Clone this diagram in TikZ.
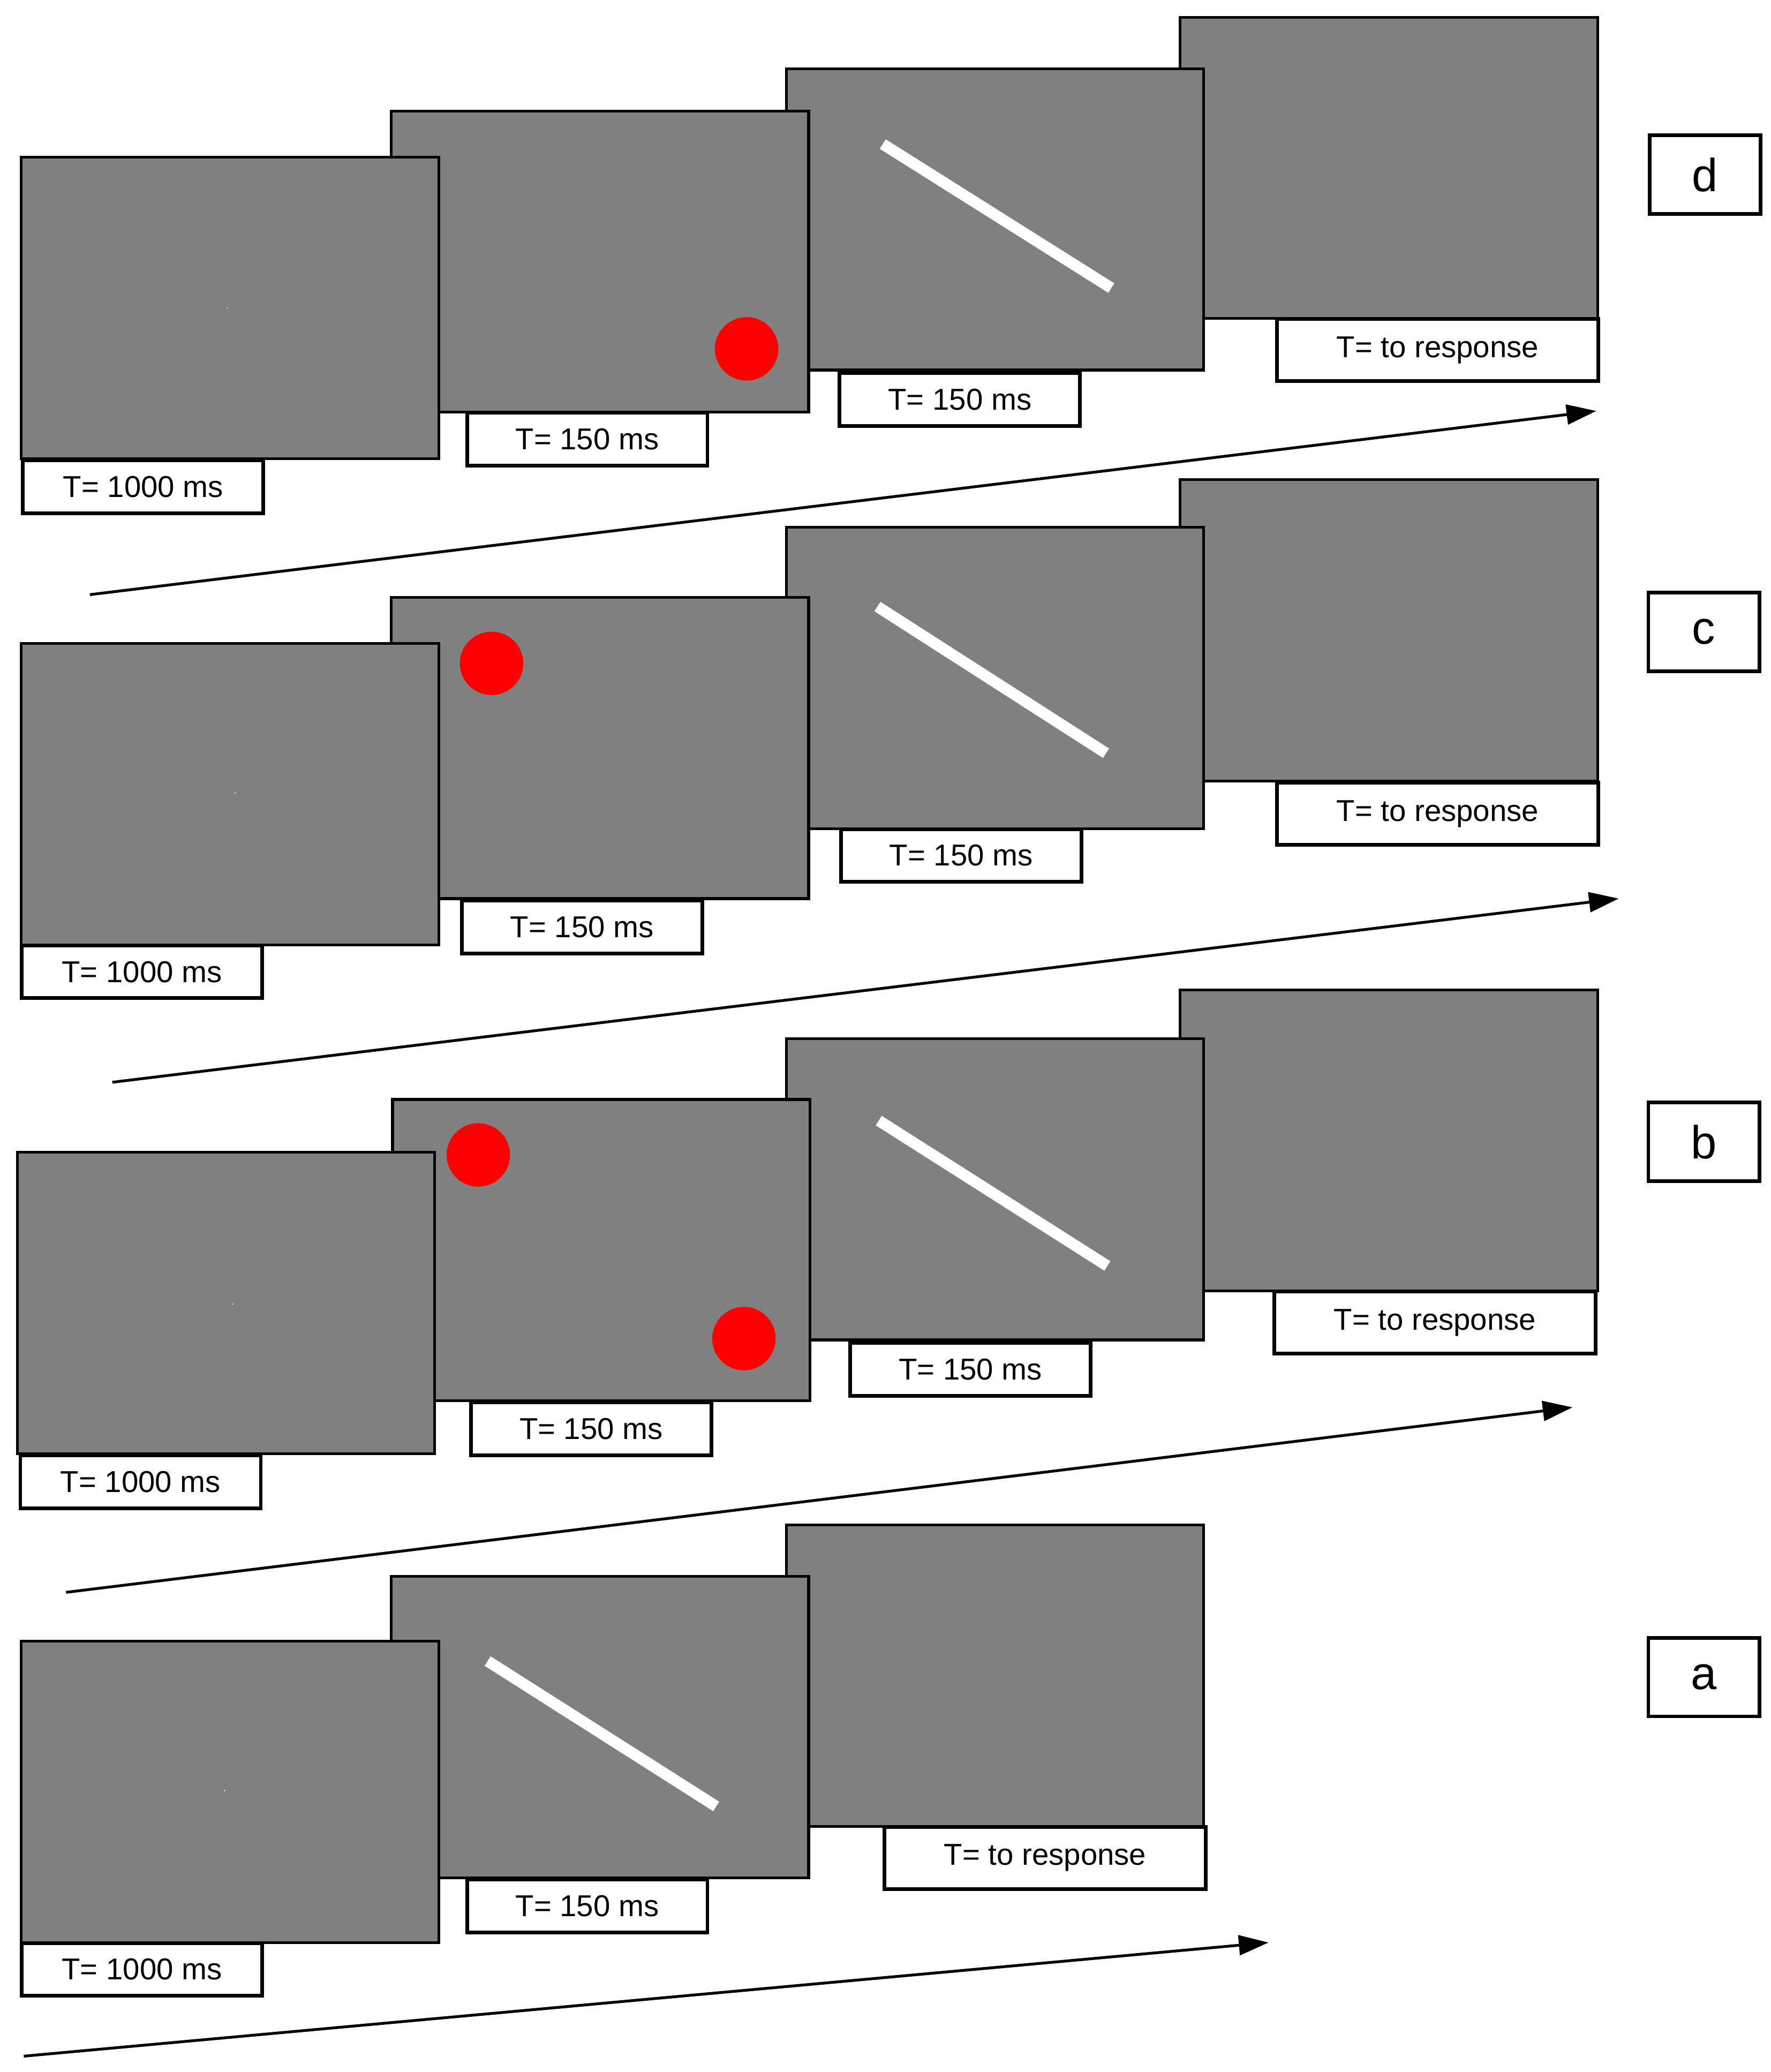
\documentclass[tikz,border=0pt]{standalone}
\usepackage{fontspec}
\setmainfont{Liberation Sans}
\usetikzlibrary{arrows.meta}
\tikzset{
  screen/.style={draw=black,line width=1.2pt,fill=scrgray,anchor=north west,
    minimum width=6.32cm,minimum height=4.56cm,inner sep=0pt},
  tlabel/.style={draw=black,line width=1.6pt,fill=white,anchor=north west,
    minimum width=3.64cm,minimum height=0.8cm,inner sep=0pt,font=\fontsize{13}{15}\selectfont},
  rlabel/.style={tlabel,minimum width=4.86cm,minimum height=0.94cm},
  letter/.style={draw=black,line width=1.6pt,anchor=north west,
    minimum width=1.68cm,minimum height=1.19cm,inner sep=0pt,font=\fontsize{20}{24}\selectfont},
  dot/.style={circle,fill=red,minimum size=0.96cm,inner sep=0pt},
  bar/.style={white,line width=0.17cm},
  timeline/.style={line width=1.2pt,-{Triangle[length=0.45cm,width=0.3cm]}}
}
\definecolor{scrgray}{HTML}{808080}
% cross: #1 = name of centre coordinate
\newcommand{\fixcross}[1]{
  \fill[white] ($(#1)+(-0.42,-0.12)$) rectangle ($(#1)+(0.42,0.12)$);
  \fill[white] ($(#1)+(-0.12,-0.42)$) rectangle ($(#1)+(0.12,0.42)$);
}
\usetikzlibrary{calc}
\begin{document}
\begin{tikzpicture}[x=0.02cm,y=-0.02cm]
\useasboundingbox (0,0) rectangle (1340,1568);

% row d
\node[screen] (d4) at (892,12) {};
\node[screen] (d3) at (594,51) {};
\coordinate (d3s) at (668,109); \coordinate (d3e) at (841,218);
\draw[bar] (d3s) -- (d3e);
\node[screen] (d2) at (295,83) {};
\node[dot] (d2a) at (565,264) {};
\node[screen] (d1) at (15,118) {};
\coordinate (d1c) at (172,233); \fixcross{d1c}
\node[tlabel] (d1t) at (16,347) {T= 1000 ms};
\node[tlabel] (d2t) at (352,311) {T= 150 ms};
\node[tlabel] (d3t) at (634,281) {T= 150 ms};
\node[rlabel] (d4t) at (965,240) {T= to response};
\coordinate (dA) at (68,450); \coordinate (dB) at (1208,311);
\draw[timeline] (dA) -- (dB);
\node[letter] (dl) at (1247,101) {d};

% row c
\node[screen] (c4) at (892,362) {};
\node[screen] (c3) at (594,398) {};
\coordinate (c3s) at (664,459); \coordinate (c3e) at (837,570);
\draw[bar] (c3s) -- (c3e);
\node[screen] (c2) at (295,451) {};
\node[dot] (c2a) at (372,502) {};
\node[screen] (c1) at (15,486) {};
\coordinate (c1c) at (178,600); \fixcross{c1c}
\node[tlabel] (c1t) at (15,714) {T= 1000 ms};
\node[tlabel] (c2t) at (348,680) {T= 150 ms};
\node[tlabel] (c3t) at (635,626) {T= 150 ms};
\node[rlabel] (c4t) at (965,591) {T= to response};
\coordinate (cA) at (85,819); \coordinate (cB) at (1225,680);
\draw[timeline] (cA) -- (cB);
\node[letter] (cl) at (1246,447) {c};

% row b
\node[screen] (b4) at (892,748) {};
\node[screen] (b3) at (594,785) {};
\coordinate (b3s) at (665,848); \coordinate (b3e) at (838,958);
\draw[bar] (b3s) -- (b3e);
\node[screen] (b2) at (296,831) {};
\node[dot] (b2a) at (362,874) {};
\node[dot] (b2b) at (563,1013) {};
\node[screen] (b1) at (12,871) {};
\coordinate (b1c) at (176,987); \fixcross{b1c}
\node[tlabel] (b1t) at (14,1100) {T= 1000 ms};
\node[tlabel] (b2t) at (355,1060) {T= 150 ms};
\node[tlabel] (b3t) at (642,1015) {T= 150 ms};
\node[rlabel] (b4t) at (963,976) {T= to response};
\coordinate (bA) at (50,1205); \coordinate (bB) at (1190,1065);
\draw[timeline] (bA) -- (bB);
\node[letter] (bl) at (1246,833) {b};

% row a
\node[screen] (a3) at (594,1153) {};
\node[screen] (a2) at (295,1192) {};
\coordinate (a2s) at (369,1257); \coordinate (a2e) at (542,1367);
\draw[bar] (a2s) -- (a2e);
\node[screen] (a1) at (15,1241) {};
\coordinate (a1c) at (170,1355); \fixcross{a1c}
\node[tlabel] (a1t) at (15,1469) {T= 1000 ms};
\node[tlabel] (a2t) at (352,1421) {T= 150 ms};
\node[rlabel] (a3t) at (668,1381) {T= to response};
\coordinate (aA) at (18,1556); \coordinate (aB) at (960,1470);
\draw[timeline] (aA) -- (aB);
\node[letter] (al) at (1246,1238) {a};
\end{tikzpicture}
\end{document}
